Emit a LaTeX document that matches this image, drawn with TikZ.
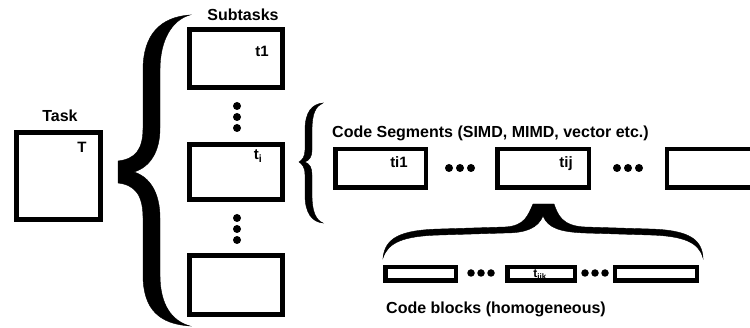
\documentclass[tikz,border=0pt]{standalone}
\usepackage{fontspec}
\setmainfont{Liberation Sans}
\begin{document}
\begin{tikzpicture}[x=1pt,y=-1pt,
  box/.style={draw,line width=5pt,inner sep=0pt},
  segbox/.style={draw,line width=4.5pt,inner sep=0pt},
  lbl/.style={font=\bfseries\fontsize{16}{18}\selectfont,inner sep=0pt,anchor=base},
  tag/.style={font=\bfseries\fontsize{15}{17}\selectfont,inner sep=0pt,anchor=base},
  smalltag/.style={font=\bfseries\fontsize{12}{14}\selectfont,inner sep=0pt,anchor=base},
  dot/.style={circle,fill,inner sep=0pt,minimum size=8pt},
  smalldot/.style={circle,fill,inner sep=0pt,minimum size=7.5pt},
  brace/.style={fill=black,draw=black,line width=0.4pt}]
\useasboundingbox (0,0) rectangle (750,328);

% ---- the task ----
\node[box,minimum width=84pt,minimum height=87pt] (task) at (58.5,176) {};
\node[lbl] (tasklbl) at (60,122) {Task};
\node[tag] (tasktag) at (82,153) {T};

% ---- subtasks ----
\node[box,minimum width=93pt,minimum height=58pt] (s1) at (236,58.5) {};
\node[box,minimum width=93pt,minimum height=55pt] (s2) at (236,172) {};
\node[box,minimum width=93pt,minimum height=59pt] (s3) at (236,285) {};
\node[lbl] (sublbl) at (243,21) {Subtasks};
\node[tag] (s1tag) at (262,57) {t1};
\node[tag] (s2tag) at (258,160) {t\textsubscript{i}};
\foreach \y [count=\k] in {106,117,128} \node[dot] (ua\k) at (237,\y) {};
\foreach \y [count=\k] in {218,229,240} \node[dot] (ub\k) at (237,\y) {};

% big brace grouping the subtasks
\path[brace] (190,15) .. controls (160,17) and (143,35) .. (143,70)
  -- (143,128) .. controls (143,150) and (135,159) .. (118,161)
  -- (118,183) .. controls (135,185) and (143,195) .. (143,218)
  -- (143,275) .. controls (143,310) and (160,324) .. (190,326)
  .. controls (172,321) and (160,305) .. (160,275)
  -- (160,218) .. controls (160,193) and (150,177) .. (134,172)
  .. controls (150,167) and (160,152) .. (160,128)
  -- (160,70) .. controls (160,40) and (172,20) .. (190,15) -- cycle;

% small brace grouping the code segments
\path[brace] (323,103) .. controls (312,104) and (305,112) .. (305,130)
  -- (305,150) .. controls (305,157) and (302,160) .. (299,162)
  .. controls (302,164) and (305,167) .. (305,175)
  -- (305,195) .. controls (305,213) and (312,222) .. (323,223)
  .. controls (316,220) and (312,212) .. (312,195)
  -- (312,175) .. controls (312,168) and (310,164) .. (305,162)
  .. controls (310,160) and (312,156) .. (312,150)
  -- (312,130) .. controls (312,113) and (316,106) .. (323,103) -- cycle;

% ---- code segments ----
\node[lbl,anchor=base west] (seglbl) at (332,138) {Code Segments (SIMD, MIMD, vector etc.)};
\node[segbox,minimum width=90.5pt,minimum height=38.5pt] (g1) at (380.5,168.5) {};
\node[segbox,minimum width=91.5pt,minimum height=38.5pt] (g2) at (543,168.5) {};
\node[segbox,minimum width=123pt,minimum height=38.5pt] (g3) at (728.5,168.5) {};
\node[tag] (g1tag) at (399,168) {ti1};
\node[tag] (g2tag) at (566,168) {tij};
\foreach \x [count=\k] in {449,460,471} \node[dot] (ga\k) at (\x,168) {};
\foreach \x [count=\k] in {617,628,639} \node[dot] (gb\k) at (\x,168) {};

% brace opening one segment into its code blocks
\path[brace] (383,258) .. controls (385,238) and (400,230) .. (440,229)
  -- (505,227) .. controls (525,226) and (528,215) .. (533,204)
  -- (554,204) .. controls (558,215) and (562,226) .. (585,227)
  -- (650,229) .. controls (690,230) and (702,240) .. (703,258)
  .. controls (699,243) and (685,236) .. (650,235)
  -- (585,233) .. controls (560,232) and (548,228) .. (543,216)
  .. controls (538,228) and (526,233) .. (505,233)
  -- (440,235) .. controls (402,236) and (388,243) .. (383,258) -- cycle;

% ---- code blocks ----
\node[segbox,minimum width=70.5pt,minimum height=13.5pt] (b1) at (420.5,274) {};
\node[segbox,minimum width=67.5pt,minimum height=13.5pt] (b2) at (541,274) {};
\node[segbox,minimum width=82pt,minimum height=13.5pt] (b3) at (656,274) {};
\node[smalltag] (b2tag) at (540,277.5) {t\textsubscript{ijk}};
\foreach \x [count=\k] in {471,481,491} \node[smalldot] (ba\k) at (\x,273) {};
\foreach \x [count=\k] in {585,595,605} \node[smalldot] (bb\k) at (\x,273) {};
\node[lbl,anchor=base west] (blklbl) at (386,314) {Code blocks (homogeneous)};
\end{tikzpicture}
\end{document}
